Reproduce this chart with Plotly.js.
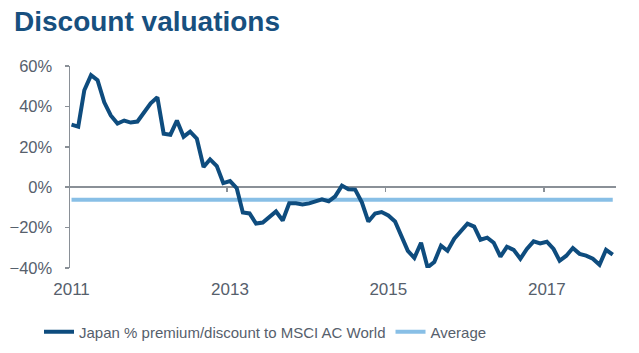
<!DOCTYPE html>
<html>
<head>
<meta charset="utf-8">
<script src="https://cdn.plot.ly/plotly-3.0.1.min.js"></script>
<style>html,body{margin:0;padding:0;background:#fff;}#chart{width:639px;height:353px;}</style>
</head>
<body>
<div id="chart"></div>
<script>
// Monthly observations, Jan 2011 .. Nov 2017 (mid-month)
var startYear = 2011, startMonth = 1;
var premium = [
  31, 30, 48, 55.5, 53, 42, 35.5, 31.5, 33, 32, 32.5, 37,
  41.5, 44.5, 26.5, 26, 33, 25, 27.5, 24, 10, 13.8, 10.5, 2,
  3, -0.5, -12.5, -13, -18, -17.5, -14.5, -12, -16.5, -8, -8, -8.5,
  -8, -7, -6, -7, -4.5, 0.8, -1, -1.2, -7.5, -17, -13, -12.3,
  -14, -17, -24, -31.5, -35, -27.5, -39.7, -37, -29, -31.5, -25.5, -21.5,
  -18, -19.5, -26, -25, -27.5, -34.4, -29.5, -31, -35.4, -30.6, -26.8, -27.8,
  -27, -30.6, -36.4, -33.9, -30.1, -33, -33.9, -35.4, -38.4, -31, -33.4
];
var averageValue = -6.2;
var tickYears = ['2011', '2013', '2015', '2017'];
var seriesNames = ['Japan % premium/discount to MSCI AC World', 'Average'];

function pad(n){return (n<10?'0':'')+n;}
var dates = premium.map(function(_, i){
  var m = startMonth - 1 + i;
  var y = startYear + Math.floor(m/12);
  return y + '-' + pad(m%12 + 1) + '-15';
});
var avg = premium.map(function(){return averageValue;});

var gray = '#56606c';
var axisGray = '#8a9097';

var traces = [
  {x: dates, y: avg, name: seriesNames[1], type: 'scatter', mode: 'lines',
   line: {color: '#88bfe6', width: 4}, xaxis: 'x', yaxis: 'y', hoverinfo: 'skip'},
  {x: dates, y: premium, name: seriesNames[0], type: 'scatter', mode: 'lines',
   line: {color: '#0e4c7e', width: 4}, xaxis: 'x2', yaxis: 'y', hoverinfo: 'skip'}
];

var xrange = ['2011-01-08', '2017-11-30'];
var layout = {
  width: 639, height: 353,
  margin: {l: 70, r: 23, t: 66, b: 85},
  paper_bgcolor: '#fff', plot_bgcolor: '#fff',
  font: {family: '"Liberation Sans", Arial, sans-serif', color: gray},
  title: {text: 'Discount valuations', font: {family: '"Liberation Sans", Arial, sans-serif', size: 28, color: '#17507f', weight: 'bold'},
          x: 14/639, xanchor: 'left', xref: 'container', y: 1 - 21/353, yanchor: 'middle', yref: 'container'},
  xaxis: {type: 'date', range: xrange, showgrid: false, zeroline: false, showline: false,
          tickvals: tickYears.map(function(y){return y + '-01-15';}), ticktext: tickYears,
          ticks: '', ticklabelstandoff: 9, tickfont: {size: 17, color: gray}},
  xaxis2: {type: 'date', matches: 'x', overlaying: 'x', anchor: 'free', position: 0.4, side: 'bottom',
           showgrid: false, zeroline: false, showline: false, showticklabels: false,
           tickvals: tickYears.slice(1).map(function(y){return y + '-01-01';}),
           ticks: 'outside', ticklen: 4, tickwidth: 1.5, tickcolor: axisGray},
  yaxis: {range: [-40, 60], dtick: 20, tick0: 0, ticksuffix: '%', showgrid: false,
          zeroline: true, zerolinecolor: axisGray, zerolinewidth: 1.5,
          showline: true, linecolor: axisGray, linewidth: 1.5,
          ticks: 'outside', ticklen: 4, tickwidth: 1.5, tickcolor: axisGray,
          ticklabelstandoff: 9, tickfont: {size: 16.5, color: gray}},
  showlegend: true,
  legend: {orientation: 'h', traceorder: 'reversed', x: 39/639, xref: 'container', xanchor: 'left',
           y: 1 - 332/353, yref: 'container', yanchor: 'middle',
           font: {size: 15, color: gray}, itemwidth: 30, bgcolor: 'rgba(0,0,0,0)'}
};

Plotly.newPlot('chart', traces, layout, {displayModeBar: false, staticPlot: true});
</script>
</body>
</html>
